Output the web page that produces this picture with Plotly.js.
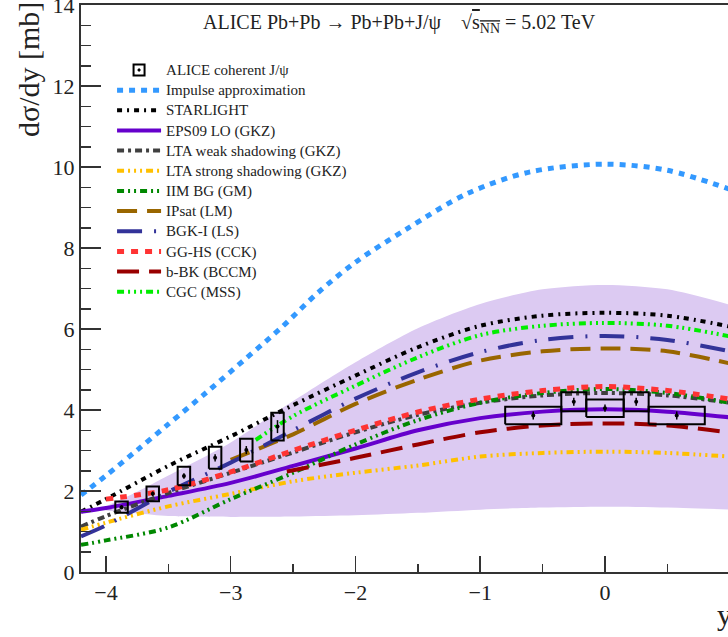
<!DOCTYPE html>
<html>
<head>
<meta charset="utf-8">
<script src="https://cdn.plot.ly/plotly-3.0.1.min.js"></script>
<style>html,body{margin:0;padding:0;background:#fff;}#chart{width:728px;height:637px;}</style>
</head>
<body>
<div id="chart"></div>
<script>
// ---- Data ----
const curveX = [-4.2, -4.0, -3.5, -3.0, -2.5, -2.0, -1.5, -1.0, -0.5, 0.0, 0.5, 1.0];

const impulseX = [-4.2, -4.0, -3.75, -3.5, -3.2, -3.0, -2.6, -2.3, -2.0, -1.6, -1.1, -0.6, 0.0, 0.5, 1.0];
const impulseY = [1.90, 2.38, 3.01, 3.65, 4.42, 4.95, 6.02, 6.90, 7.65, 8.45, 9.35, 9.88, 10.07, 9.92, 9.45];

const starlightY = [1.49, 1.80, 2.62, 3.35, 4.12, 4.85, 5.55, 6.08, 6.33, 6.40, 6.33, 6.06];
const eps09Y     = [1.49, 1.58, 1.88, 2.20, 2.62, 3.05, 3.50, 3.80, 3.96, 4.02, 3.96, 3.82];
const ltaWeakY   = [1.12, 1.38, 1.95, 2.45, 2.95, 3.45, 3.88, 4.18, 4.36, 4.42, 4.36, 4.18];
const ltaStrongY = [1.04, 1.22, 1.62, 1.93, 2.24, 2.45, 2.63, 2.85, 2.94, 2.97, 2.94, 2.85];
const iimY       = [0.67, 0.78, 1.10, 1.80, 2.45, 3.15, 3.75, 4.18, 4.42, 4.52, 4.42, 4.18];
const bgkY       = [0.88, 1.15, 1.98, 2.70, 3.50, 4.28, 4.93, 5.43, 5.73, 5.83, 5.73, 5.45];

const ipsatX = [-3.0, -2.5, -2.0, -1.5, -1.0, -0.5, 0.0, 0.5, 1.0];
const ipsatY = [2.77, 3.40, 4.15, 4.75, 5.22, 5.45, 5.52, 5.45, 5.15];

const gghsX = [-4.0, -3.5, -3.0, -2.5, -2.0, -1.5, -1.0, -0.5, 0.0, 0.5, 1.0];
const gghsY = [1.80, 2.03, 2.47, 3.00, 3.50, 3.95, 4.27, 4.48, 4.58, 4.48, 4.27];

const bbkX = [-2.55, -2.0, -1.5, -1.0, -0.5, 0.0, 0.5, 1.0];
const bbkY = [2.48, 2.82, 3.15, 3.45, 3.62, 3.67, 3.62, 3.44];

const cgcX = [-2.8, -2.5, -2.0, -1.5, -1.0, -0.5, 0.0, 0.5, 1.0];
const cgcY = [3.26, 3.85, 4.60, 5.30, 5.85, 6.08, 6.15, 6.08, 5.82];

const bandX     = [-4.0, -3.75, -3.5, -3.0, -2.5, -2.0, -1.5, -1.0, -0.5, 0.0, 0.5, 1.0];
const bandUpper = [1.62, 1.98, 2.38, 3.20, 4.22, 5.18, 6.02, 6.62, 6.98, 7.09, 6.98, 6.60];
const bandLower = [1.52, 1.45, 1.38, 1.36, 1.37, 1.40, 1.46, 1.54, 1.59, 1.61, 1.59, 1.54];

// ALICE forward rapidity
const fwdX    = [-3.875, -3.625, -3.375, -3.125, -2.875, -2.625];
const fwdY    = [1.60, 1.93, 2.37, 2.82, 3.01, 3.59];
const fwdStat = [0.05, 0.06, 0.07, 0.09, 0.10, 0.16];
const fwdSyst = [0.14, 0.18, 0.23, 0.27, 0.28, 0.34];
const fwdBoxHalfWidth = 0.05;
// ALICE central rapidity
const cenLo   = [-0.80, -0.35, -0.15, 0.15, 0.35];
const cenHi   = [-0.35, -0.15, 0.15, 0.35, 0.80];
const cenY    = [3.865, 4.205, 4.045, 4.205, 3.865];
const cenStat = [0.10, 0.10, 0.09, 0.10, 0.10];
const cenSyst = [0.215, 0.235, 0.215, 0.235, 0.215];

const legendNames = ["ALICE coherent J/ψ", "Impulse approximation", "STARLIGHT", "EPS09 LO (GKZ)",
  "LTA weak shadowing (GKZ)", "LTA strong shadowing (GKZ)", "IIM BG (GM)", "IPsat (LM)",
  "BGK-I (LS)", "GG-HS (CCK)", "b-BK (BCCM)", "CGC (MSS)"];

// ---- Build traces ----
const serif = "Liberation Serif, Times New Roman, serif";
const lg = (s) => "<span style='font-size:15px'>" + s + "</span>";
const traces = [];

// band: lower edge, then upper filled down to it
traces.push({x: bandX, y: bandLower, type: "scatter", mode: "lines",
  line: {width: 0, color: "rgba(0,0,0,0)", shape: "spline", smoothing: 0.8}, showlegend: false, hoverinfo: "skip"});
traces.push({x: bandX, y: bandUpper, type: "scatter", mode: "lines", fill: "tonexty",
  fillcolor: "rgb(220,202,242)", line: {width: 0, color: "rgba(0,0,0,0)", shape: "spline", smoothing: 0.8},
  showlegend: false, hoverinfo: "skip"});

// legend entry for data
traces.push({x: [null], y: [null], type: "scatter", mode: "markers", name: lg(legendNames[0]),
  marker: {symbol: "square-open-dot", size: 11, color: "black", line: {width: 2, color: "black"}}});

function curve(name, xs, ys, color, width, dash) {
  return {x: xs, y: ys, type: "scatter", mode: "lines", name: lg(name),
    line: {color: color, width: width, dash: dash, shape: "spline", smoothing: 0.9}};
}
traces.push(curve(legendNames[1], impulseX, impulseY, "rgb(51,153,255)", 5, "6px,6px"));
traces.push(curve(legendNames[2], curveX, starlightY, "rgb(0,0,0)", 4, "5px,5px,2px,5px"));
traces.push(curve(legendNames[3], curveX, eps09Y, "rgb(102,0,204)", 4, "solid"));
traces.push(curve(legendNames[4], curveX, ltaWeakY, "rgb(64,64,64)", 4, "7px,4px,3px,4px"));
traces.push(curve(legendNames[5], curveX, ltaStrongY, "rgb(255,192,0)", 4, "7px,4px,2px,4px,2px,4px,2px,4px"));
traces.push(curve(legendNames[6], curveX, iimY, "rgb(0,136,0)", 4, "7px,4px,2px,4px,2px,4px"));
traces.push(curve(legendNames[7], ipsatX, ipsatY, "rgb(153,102,0)", 4, "20px,10px"));
traces.push(curve(legendNames[8], curveX, bgkY, "rgb(51,51,153)", 4, "25px,12px,2px,12px"));
traces.push(curve(legendNames[9], gghsX, gghsY, "rgb(255,51,51)", 5, "7px,7px"));
traces.push(curve(legendNames[10], bbkX, bbkY, "rgb(153,0,0)", 4, "22px,10px"));
traces.push(curve(legendNames[11], cgcX, cgcY, "rgb(0,238,0)", 4, "7px,4px,2px,4px,2px,4px,2px,4px"));

// systematic boxes built from data
const boxX = [], boxY = [];
fwdX.forEach((x, i) => {
  const l = x - fwdBoxHalfWidth, r = x + fwdBoxHalfWidth, lo = fwdY[i] - fwdSyst[i], hi = fwdY[i] + fwdSyst[i];
  boxX.push(l, r, r, l, l, null); boxY.push(lo, lo, hi, hi, lo, null);
});
cenY.forEach((y, i) => {
  const l = cenLo[i], r = cenHi[i], lo = y - cenSyst[i], hi = y + cenSyst[i];
  boxX.push(l, r, r, l, l, null); boxY.push(lo, lo, hi, hi, lo, null);
});
traces.push({x: boxX, y: boxY, type: "scatter", mode: "lines", line: {color: "black", width: 2},
  showlegend: false, hoverinfo: "skip", connectgaps: false});

// data points
const cenX = cenLo.map((l, i) => (l + cenHi[i]) / 2);
traces.push({x: fwdX.concat(cenX), y: fwdY.concat(cenY), type: "scatter", mode: "markers",
  marker: {symbol: "circle", size: 4, color: "black"},
  error_y: {type: "data", array: fwdStat.concat(cenStat), color: "black", thickness: 1.5, width: 0},
  showlegend: false});

const layout = {
  width: 728, height: 637,
  margin: {l: 81, r: 0, t: 5, b: 65},
  paper_bgcolor: "white", plot_bgcolor: "white",
  font: {family: serif, color: "#222"},
  showlegend: true,
  legend: {x: 0.048, y: 0.912, xanchor: "left", yanchor: "top", bgcolor: "rgba(0,0,0,0)", traceorder: "normal",
    font: {family: serif, size: 13.2, color: "#222"}, tracegroupgap: 0, itemwidth: 44},
  xaxis: {range: [-4.2, 0.986], showgrid: false, zeroline: false, showline: true, mirror: true,
    linecolor: "#333", linewidth: 2, ticks: "inside", ticklen: 16, tickwidth: 1.5, tickcolor: "#333",
    dtick: 1, tick0: 0, tickfont: {family: serif, size: 22, color: "#222"},
    minor: {dtick: 0.5, ticks: "inside", ticklen: 8, tickwidth: 1.5, tickcolor: "#333"}},
  yaxis: {range: [0, 14.001], showgrid: false, zeroline: false, showline: true, mirror: false,
    linecolor: "#333", linewidth: 2, ticks: "inside", ticklen: 20, tickwidth: 1.5, tickcolor: "#333",
    dtick: 2, tick0: 0, ticklabeloverflow: "allow", tickfont: {family: serif, size: 22, color: "#222"},
    minor: {dtick: 0.5, ticks: "inside", ticklen: 10, tickwidth: 1.5, tickcolor: "#333"}},
  annotations: [
    {xref: "paper", yref: "paper", x: 0.493, y: 0.968, xanchor: "center", yanchor: "middle", showarrow: false,
     text: "ALICE Pb+Pb → Pb+Pb+J/ψ\u00a0\u00a0\u00a0\u00a0√<span style='text-decoration:overline'>s<sub>NN</sub></span> = 5.02 TeV",
     font: {family: serif, size: 20, color: "#222"}},
    {xref: "paper", yref: "paper", x: -0.082, y: 0.887, xanchor: "center", yanchor: "middle", showarrow: false,
     textangle: -90, text: "dσ/dy [mb]", font: {family: serif, size: 30, color: "#222"}},
    {xref: "paper", yref: "paper", x: 0.98, y: -0.075, xanchor: "left", yanchor: "middle", showarrow: false,
     text: "y", font: {family: serif, size: 30, color: "#222"}}
  ]
};

Plotly.newPlot("chart", traces, layout, {displayModeBar: false, staticPlot: true});
</script>
</body>
</html>
